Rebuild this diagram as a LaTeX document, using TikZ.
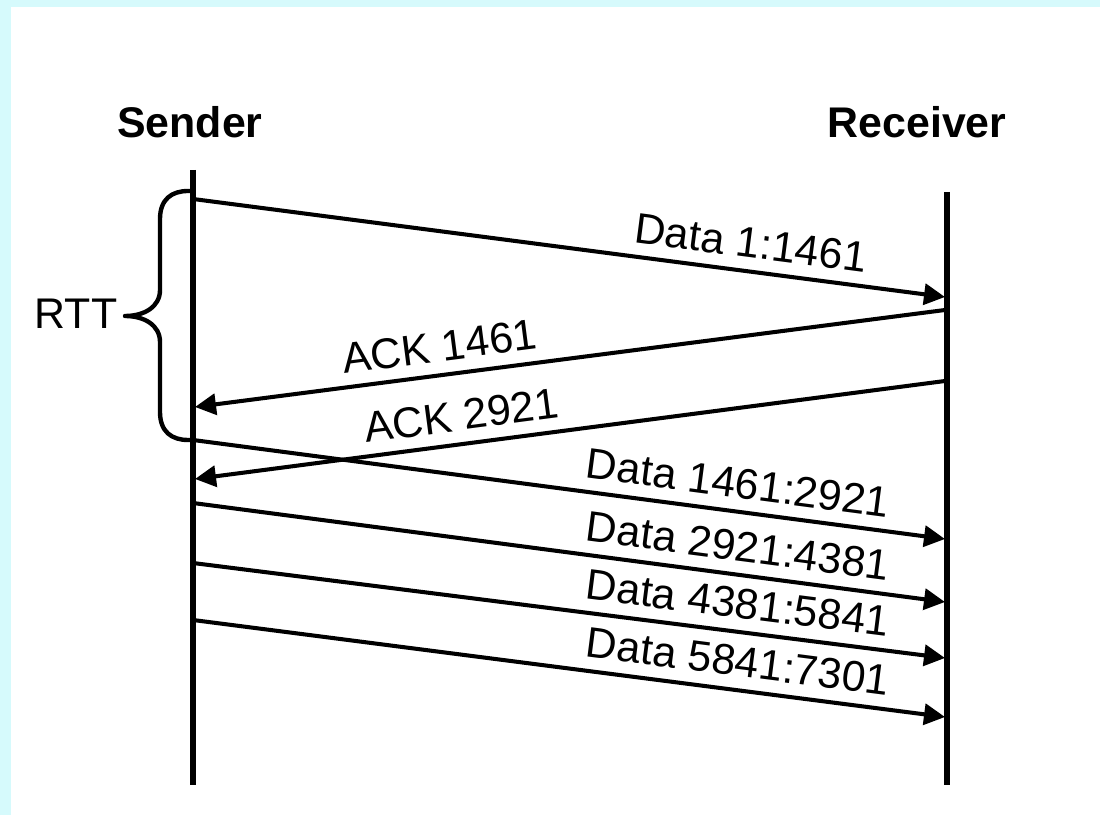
\documentclass[tikz,border=0pt]{standalone}
\usepackage{fontspec}
\setmainfont{Liberation Sans}
\usetikzlibrary{arrows.meta}
\usepackage{xcolor}
\definecolor{framecyan}{RGB}{214,250,252}
\tikzset{
  lifeline/.style = {draw=black, line width=1.45pt},
  msg/.style      = {-{Triangle[length=2.1mm, width=2.1mm]}, line width=1.15pt},
  msglabel/.style = {sloped, above, inner sep=3.2pt, font=\fontsize{12.2}{14}\selectfont},
  party/.style    = {anchor=base, inner sep=0pt, font=\fontsize{12.2}{14}\selectfont\bfseries},
  rttbrace/.style = {line width=1.25pt, line join=round}
}
\begin{document}
\begin{tikzpicture}[font=\fontsize{12.2}{14}\selectfont]
\fill[framecyan] (0,0) rectangle (11,-8.15);
\fill[white] (0.11,-0.07) rectangle (11,-8.15);
% sender and receiver
\node[party] (sender)   at (1.90,-1.38) {Sender};
\node[party] (receiver) at (9.17,-1.38) {Receiver};
\coordinate (stop) at (1.93,-1.70); \coordinate (sbot) at (1.93,-7.85);
\coordinate (rtop) at (9.47,-1.92); \coordinate (rbot) at (9.47,-7.85);
\draw[lifeline] (stop) -- (sbot);
\draw[lifeline] (rtop) -- (rbot);
% end points of the segments
\foreach \nm/\ys/\yr in {d1/1.99/2.97, d2/4.40/5.39, d3/5.03/6.02,
                         d4/5.63/6.58, d5/6.20/7.17} {
  \coordinate (\nm s) at (1.93,-\ys);
  \coordinate (\nm r) at (9.45,-\yr);
}
\coordinate (a1r) at (9.45,-3.10); \coordinate (a1s) at (1.95,-4.07);
\coordinate (a2r) at (9.45,-3.81); \coordinate (a2s) at (1.95,-4.79);
% segments and acks
\draw[msg] (d1s) -- node[msglabel, pos=0.737] (d1lab) {Data 1:1461} (d1r);
\draw[msg] (a1r) -- node[msglabel, pos=0.669] (a1lab) {ACK 1461} (a1s);
\draw[msg] (a2r) -- node[msglabel, pos=0.64]  (a2lab) {ACK 2921} (a2s);
\draw[msg] (d2s) -- node[msglabel, pos=0.72] (d2lab) {Data 1461:2921} (d2r);
\draw[msg] (d3s) -- node[msglabel, pos=0.72] (d3lab) {Data 2921:4381} (d3r);
\draw[msg] (d4s) -- node[msglabel, pos=0.72] (d4lab) {Data 4381:5841} (d4r);
\draw[msg] (d5s) -- node[msglabel, pos=0.72] (d5lab) {Data 5841:7301} (d5r);
% round trip time
\coordinate (rtttop) at (1.93,-1.91);
\coordinate (rtttip) at (1.25,-3.16);
\draw[rttbrace] (rtttop) -- (1.88,-1.91)
  .. controls (1.72,-1.91) and (1.60,-1.99) .. (1.60,-2.19)
  -- (1.60,-2.90) .. controls (1.60,-3.07) and (1.44,-3.16) .. (rtttip)
  .. controls (1.44,-3.16) and (1.60,-3.25) .. (1.60,-3.42)
  -- (1.60,-4.12) .. controls (1.60,-4.32) and (1.72,-4.40) .. (1.88,-4.40)
  -- (d2s);
\node[anchor=east, inner sep=0pt] (rtt) at (1.18,-3.14) {RTT};
\end{tikzpicture}
\end{document}
